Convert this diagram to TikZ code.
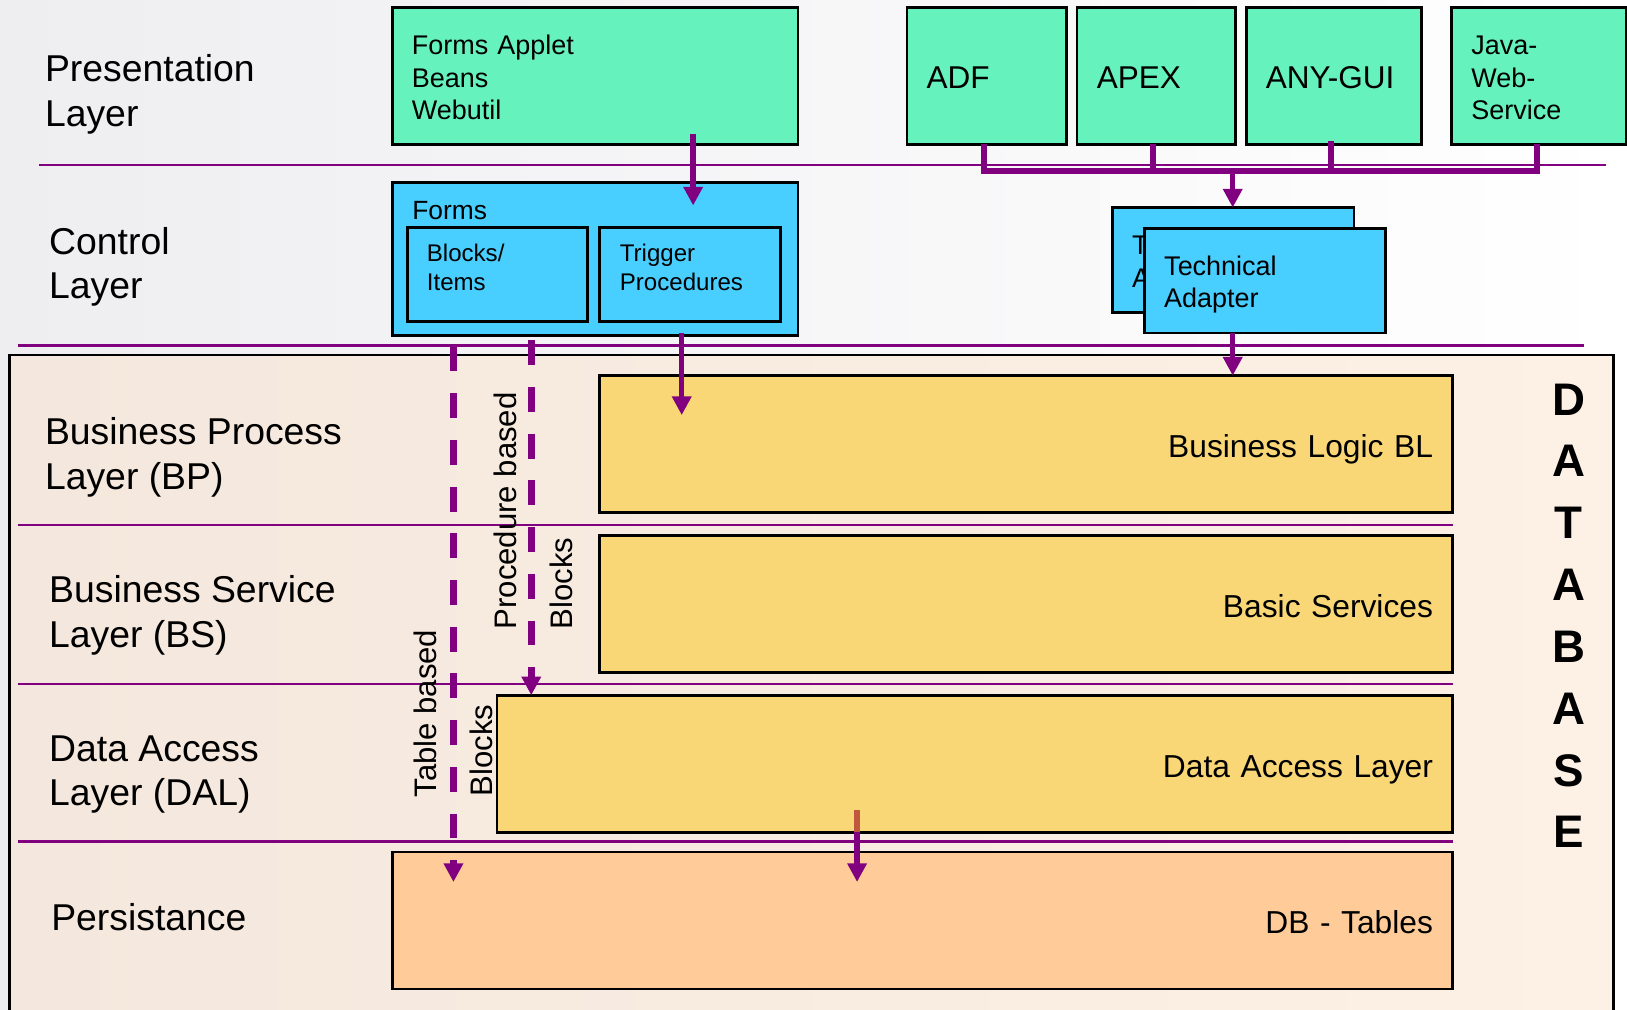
\documentclass[tikz,border=0pt]{standalone}
\usepackage{fontspec}
\setmainfont{Liberation Sans}
\usetikzlibrary{arrows.meta}
\definecolor{mint}{HTML}{66F2BD}
\definecolor{cyanbox}{HTML}{48CEFF}
\definecolor{yellowbox}{HTML}{F9D777}
\definecolor{peachbox}{HTML}{FFCC99}
\definecolor{dbfill}{HTML}{FDF0E4}
\definecolor{dbleft}{HTML}{F4E7DD}
\definecolor{purp}{HTML}{800080}
\definecolor{rust}{HTML}{C0583F}
\definecolor{bgleft}{HTML}{EEEEF1}
\newcommand\myfLayer{\fontsize{18}{21.5}\selectfont}
\newcommand\myfBox{\fontsize{13}{15.5}\selectfont}
\newcommand\myfBig{\fontsize{15.2}{18}\selectfont}
\newcommand\myfForms{\fontsize{12.7}{15}\selectfont}
\newcommand\myfSmall{\fontsize{11.6}{14}\selectfont}
\newcommand\myfYel{\fontsize{15.3}{18}\selectfont}
\newcommand\myfRot{\fontsize{15}{18}\selectfont}
\newcommand\myfDB{\fontsize{22}{29.8}\selectfont\bfseries}
\begin{document}
\begin{tikzpicture}[x=0.5pt,y=-0.5pt,
  box/.style={draw=black, line width=1.3pt, inner sep=0pt, outer sep=0pt, anchor=north west},
  gbox/.style={box, fill=mint},
  cbox/.style={box, fill=cyanbox},
  ybox/.style={box, fill=yellowbox},
  pbox/.style={box, fill=peachbox},
  yeltext/.style={inner xsep=9.5pt, align=right, font=\myfYel, text height=13pt, text depth=0pt},
  txt/.style={inner sep=0pt, anchor=west, align=left},
  lbl/.style={txt, font=\myfLayer},
  rot/.style={inner sep=0pt, rotate=90, anchor=west, font=\myfRot},
  sep/.style={draw=purp, line width=1.2pt},
  bus/.style={draw=purp, line width=2.8pt},
  arr/.style={draw=purp, line width=2.6pt, -{Triangle[length=9pt,width=9pt]}},
  darr/.style={draw=purp, line width=3.2pt, dash pattern=on 12pt off 10.5pt, -{Triangle[length=9pt,width=9pt]}}
]
\useasboundingbox (0,0) rectangle (1568,973);
\clip (0,0) rectangle (1568,973);
\fill[left color=bgleft, right color=white] (0,0) rectangle (1568,973);
% database container
\path[left color=dbleft, right color=dbfill, draw=black, line width=1.3pt] (9,342) rectangle (1555,995);

% separator lines
\draw[sep] (38,159) -- (1548,159);
\draw[sep] (17,333) -- (1527,333);
\draw[sep] (17,506) -- (1400,506);
\draw[sep] (17,659) -- (1400,659);
\draw[sep] (17,811) -- (1400,811);

% layer labels
\node[lbl] (lpres) at (43,91) {Presentation\\Layer};
\node[lbl] (lctrl) at (47,257) {Control\\Layer};
\node[lbl] (lbp) at (43,440.5) {Business Process\\Layer (BP)};
\node[lbl] (lbs) at (47,593) {Business Service\\Layer (BS)};
\node[lbl] (ldal) at (47,746.5) {Data Access\\Layer (DAL)};
\node[lbl] (lpers) at (49,884) {Persistance};

% presentation boxes
\node[gbox, minimum width=195.5pt, minimum height=66pt, text width=176.5pt, inner xsep=9.5pt, align=left, font=\myfBox, text depth=29.5pt] (fa) at (378,7) {Forms Applet\\Beans\\Webutil};
\node[gbox, minimum width=77pt, minimum height=66pt, text width=58pt, inner xsep=9.5pt, align=left, font=\myfBig, text height=12pt, text depth=0pt] (adf) at (874,7) {ADF};
\node[gbox, minimum width=76.5pt, minimum height=66pt, text width=57.5pt, inner xsep=9.5pt, align=left, font=\myfBig, text height=12pt, text depth=0pt] (apex) at (1038,7) {APEX};
\node[gbox, minimum width=84.5pt, minimum height=66pt, text width=65.5pt, inner xsep=9.5pt, align=left, font=\myfBig, text height=12pt, text depth=0pt] (anygui) at (1201,7) {ANY-GUI};
\node[gbox, minimum width=84pt, minimum height=66pt, text width=65pt, inner xsep=9.5pt, align=left, font=\myfBox, text depth=29pt] (jws) at (1399,7) {Java-\\Web-\\Service};

% control layer
\node[cbox, minimum width=195.5pt, minimum height=73.5pt] (forms) at (378,176) {};
\node[txt, font=\myfForms] (formslbl) at (397,202.5) {Forms};
\node[cbox, minimum width=86.5pt, minimum height=45.5pt] (blk) at (393,219) {};
\node[txt, font=\myfSmall] (blktxt) at (411,258) {Blocks/\\Items};
\node[cbox, minimum width=87pt, minimum height=45.5pt] (trg) at (578,219) {};
\node[txt, font=\myfSmall] (trgtxt) at (597,258) {Trigger\\Procedures};

\node[cbox, minimum width=116.5pt, minimum height=50.5pt, text width=97.5pt, inner xsep=9.5pt, align=left, font=\myfBox, text depth=14.2pt] (tab) at (1072,200) {Technical\\Adapter};
\node[cbox, minimum width=116pt, minimum height=50.5pt, text width=97pt, inner xsep=9.5pt, align=left, font=\myfBox, text depth=14.2pt] (taf) at (1103,220) {Technical\\Adapter};

% database layers
\node[ybox, minimum width=411pt, minimum height=66pt, text width=392pt, yeltext] (bl) at (578,362) {Business Logic BL};
\node[ybox, minimum width=411pt, minimum height=66pt, text width=392pt, yeltext] (bs) at (578,516) {Basic Services};
\node[ybox, minimum width=460.5pt, minimum height=66pt, text width=441.5pt, yeltext] (dal) at (479,670) {Data Access Layer};
\node[pbox, minimum width=511pt, minimum height=66pt, text width=492pt, yeltext] (dbt) at (378,821) {DB - Tables};

\node[inner sep=0pt, align=center, font=\myfDB] (dbword) at (1512,593.5) {D\\A\\T\\A\\B\\A\\S\\E};

% rotated labels
\node[rot] (tbl) at (410,769) {Table based};
\node[rot] (blk1) at (464,768) {Blocks};
\node[rot] (pbl) at (487,607) {Procedure based};
\node[rot] (blk2) at (541,607) {Blocks};

% connector coordinates
\coordinate (b1) at (948,165);
\coordinate (b2) at (1111,165);
\coordinate (b3) at (1283,165);
\coordinate (b4) at (1481,165);
\coordinate (bc) at (1188,165);
\coordinate (faout) at (668,129);
\coordinate (fain) at (668,198);
\coordinate (trout) at (657,321);
\coordinate (trin) at (657,400);
\coordinate (tbs) at (437,334);
\coordinate (tbe) at (437,850);
\coordinate (pbs) at (512,328);
\coordinate (dalout) at (826,781);
\coordinate (dalin) at (826,850);

% presentation bus
\draw[bus] (adf.south -| b1) -- (b1) -- (b4) -- (jws.south -| b4);
\draw[bus] (apex.south -| b2) -- (b2);
\draw[bus] ([yshift=1.5pt]anygui.south -| b3) -- (b3);
\draw[arr] (bc) -- (tab.north -| bc);
\draw[arr] (taf.south -| bc) -- (bl.north -| bc);

% forms arrows
\draw[arr] (faout) -- (fain);
\draw[arr] (trout) -- (trin);

% dashed
\draw[darr] (tbs) -- (tbe);
\draw[darr] (pbs) -- (dal.north -| pbs);

% DAL to DB
\draw[arr] (dalout) -- (dalin);
\draw[draw=rust, line width=2.6pt] (dalout) -- (dal.south -| dalout);
\end{tikzpicture}
\end{document}
